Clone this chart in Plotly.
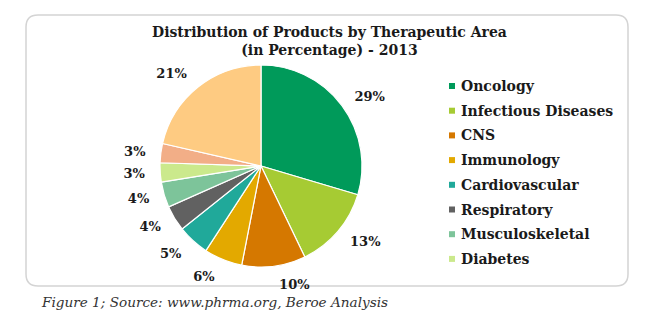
import plotly.graph_objects as go

# Therapeutic areas, clockwise from 12 o'clock
areas = ["Oncology", "Infectious Diseases", "CNS", "Immunology", "Cardiovascular",
         "Respiratory", "Musculoskeletal", "Diabetes", "Others (a)", "Others (b)"]
shares = [29, 13, 10, 6, 5, 4, 4, 3, 3, 21]
colors = ["#009A5A", "#A6CB33", "#D57800", "#E3A900", "#20A99A",
          "#616161", "#7DC49A", "#CBE98C", "#F2AE87", "#FECB82"]
legend_areas = areas[:8]

W, H = 650, 325


def px(x):
    return x / W


def py(y):
    return 1 - y / H


SERIF = "DejaVu Serif"
CX, CY, R = 261, 166, 101      # pie centre and radius in pixels
R_LABEL = 112                  # radius of the ring the % labels sit outside of


def dom(rad):
    return dict(x=[px(CX - rad), px(CX + rad)], y=[py(CY + rad), py(CY - rad)])


fig = go.Figure()
# Coloured slices
fig.add_trace(go.Pie(
    labels=areas, values=shares, sort=False, direction="clockwise", rotation=0,
    marker=dict(colors=colors, line=dict(color="white", width=1.2)),
    textinfo="none", showlegend=False, hoverinfo="label+value",
    domain=dom(R),
))
# Transparent ring carrying the percentage labels a little away from the edge
fig.add_trace(go.Pie(
    labels=areas, values=shares, sort=False, direction="clockwise", rotation=0,
    marker=dict(colors=["rgba(0,0,0,0)"] * len(areas), line=dict(width=0)),
    text=[f"{v}%" for v in shares], textinfo="text", textposition="outside",
    outsidetextfont=dict(family=SERIF, size=13, color="#1a1a1a", weight="bold"),
    showlegend=False, hoverinfo="skip",
    domain=dom(R_LABEL),
))

shapes = []
annotations = []

# Rounded frame around the chart
x0, x1, y0, y1, r = 26, 628, 15, 286, 12
path = (f"M {px(x0 + r)},{py(y0)} L {px(x1 - r)},{py(y0)} "
        f"Q {px(x1)},{py(y0)} {px(x1)},{py(y0 + r)} L {px(x1)},{py(y1 - r)} "
        f"Q {px(x1)},{py(y1)} {px(x1 - r)},{py(y1)} L {px(x0 + r)},{py(y1)} "
        f"Q {px(x0)},{py(y1)} {px(x0)},{py(y1 - r)} L {px(x0)},{py(y0 + r)} "
        f"Q {px(x0)},{py(y0)} {px(x0 + r)},{py(y0)} Z")
shapes.append(dict(type="path", path=path, xref="paper", yref="paper",
                   line=dict(color="#D4D4D4", width=1.5), layer="below"))

# Title
annotations.append(dict(
    text="<b>Distribution of Products by Therapeutic Area<br>(in Percentage) - 2013</b>",
    x=px(329 - 0), y=py(41), xref="paper", yref="paper", showarrow=False,
    xanchor="center", yanchor="middle", align="center",
    font=dict(family=SERIF, size=14, color="#1a1a1a")))

# Legend (first eight areas)
for i, name in enumerate(legend_areas):
    cy = 86 + i * 24.7
    shapes.append(dict(type="rect", xref="paper", yref="paper",
                       x0=px(449), x1=px(455), y0=py(cy - 3), y1=py(cy + 3),
                       fillcolor=colors[i], line=dict(width=0)))
    annotations.append(dict(
        text=f"<b>{name}</b>", x=px(459), y=py(cy), xref="paper", yref="paper",
        showarrow=False, xanchor="left", yanchor="middle",
        font=dict(family=SERIF, size=14, color="#1a1a1a")))

# Caption
annotations.append(dict(
    text="<i>Figure 1; Source: www.phrma.org, Beroe Analysis</i>",
    x=px(39), y=py(302), xref="paper", yref="paper", showarrow=False,
    xanchor="left", yanchor="middle",
    font=dict(family=SERIF, size=13.6, color="#333333")))

fig.update_layout(
    width=W, height=H,
    margin=dict(l=0, r=0, t=0, b=0),
    paper_bgcolor="white",
    plot_bgcolor="white",
    shapes=shapes,
    annotations=annotations,
)

fig.write_html("out.html")
